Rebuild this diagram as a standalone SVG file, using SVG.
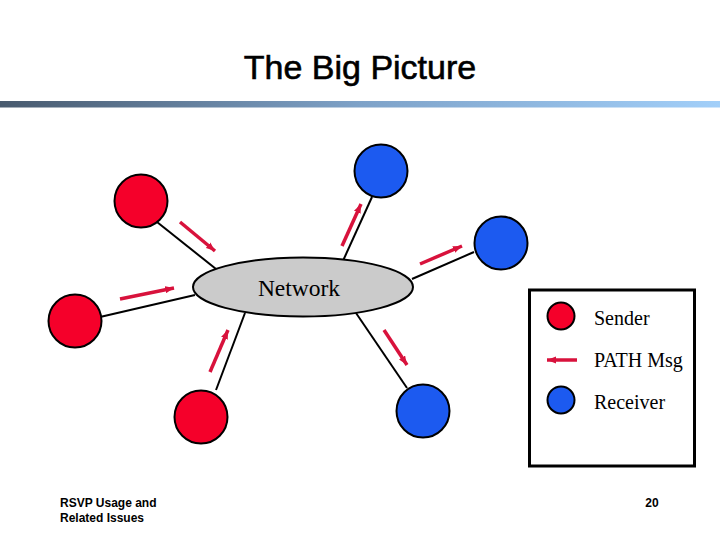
<svg xmlns="http://www.w3.org/2000/svg" width="720" height="540" viewBox="0 0 720 540">
<defs>
<linearGradient id="bar" x1="0" y1="0" x2="1" y2="0">
<stop offset="0" stop-color="#485a6e"/>
<stop offset="0.5" stop-color="#7ea2c8"/>
<stop offset="1" stop-color="#a2cff9"/>
</linearGradient>
<marker id="ah" viewBox="0 0 10 8" refX="10" refY="4" markerWidth="9" markerHeight="7.5" markerUnits="userSpaceOnUse" orient="auto">
<path d="M0,0 L10,4 L0,8 Z" fill="#d8123c"/>
</marker>
<style>
.sender{fill:#f5002a;stroke:#000;stroke-width:2}
.receiver{fill:#1c5af0;stroke:#000;stroke-width:2}
.link{stroke:#000;stroke-width:2;fill:none}
.msg{stroke:#d8123c;stroke-width:3.5;fill:none;marker-end:url(#ah)}
.serif{font-family:"Liberation Serif","Times New Roman",serif;fill:#000}
.sans{font-family:"Liberation Sans",Arial,sans-serif;fill:#000}
</style>
</defs>
<rect width="720" height="540" fill="#fff"/>
<text class="sans" x="360" y="79" font-size="34" text-anchor="middle" stroke="#000" stroke-width="0.6">The Big Picture</text>
<rect x="0" y="101" width="720" height="6.5" fill="url(#bar)"/>

<g id="connectors">
<line class="link" x1="157" y1="222" x2="216" y2="269"/>
<line class="link" x1="100" y1="317" x2="195" y2="295"/>
<line class="link" x1="216" y1="390" x2="245" y2="313"/>
<line class="link" x1="356" y1="313" x2="407" y2="388"/>
<line class="link" x1="342" y1="263" x2="372" y2="197"/>
<line class="link" x1="412" y1="279" x2="474" y2="252"/>
<line class="msg" x1="180" y1="222" x2="215" y2="251"/>
<line class="msg" x1="120" y1="299" x2="174" y2="288"/>
<line class="msg" x1="210" y1="372" x2="228" y2="330"/>
<line class="msg" x1="342" y1="246" x2="361" y2="204"/>
<line class="msg" x1="420" y1="264" x2="462" y2="246"/>
<line class="msg" x1="384" y1="330" x2="407" y2="365"/>
</g>

<g id="network">
<ellipse cx="303" cy="287" rx="110" ry="29.5" fill="#cbcbcb" stroke="#000" stroke-width="2"/>
<text class="serif" x="299" y="296" font-size="23.5" text-anchor="middle">Network</text>
</g>
<g id="sender1"><circle class="sender" cx="141" cy="201" r="26.5"/></g>
<g id="sender2"><circle class="sender" cx="75" cy="321" r="26.5"/></g>
<g id="sender3"><circle class="sender" cx="201" cy="417" r="26.5"/></g>
<g id="receiver1"><circle class="receiver" cx="381" cy="171" r="26.5"/></g>
<g id="receiver2"><circle class="receiver" cx="501" cy="243" r="26.5"/></g>
<g id="receiver3"><circle class="receiver" cx="423" cy="411" r="26.5"/></g>

<g id="legend">
<rect x="529.5" y="290" width="165" height="176" fill="#fff" stroke="#000" stroke-width="3"/>
<circle class="sender" cx="561" cy="316" r="13.5"/>
<line class="msg" x1="577" y1="360" x2="547" y2="360"/>
<circle class="receiver" cx="561" cy="400" r="13.5"/>
<text class="serif" x="594" y="325" font-size="20">Sender</text>
<text class="serif" x="594" y="367" font-size="20">PATH Msg</text>
<text class="serif" x="594" y="409" font-size="20">Receiver</text>
</g>

<g id="footer">
<text class="sans" x="60" y="507" font-size="12" font-weight="bold">RSVP Usage and</text>
<text class="sans" x="60" y="522" font-size="12" font-weight="bold">Related Issues</text>
<text class="sans" x="652" y="507" font-size="12" font-weight="bold" text-anchor="middle">20</text>
</g>
</svg>
